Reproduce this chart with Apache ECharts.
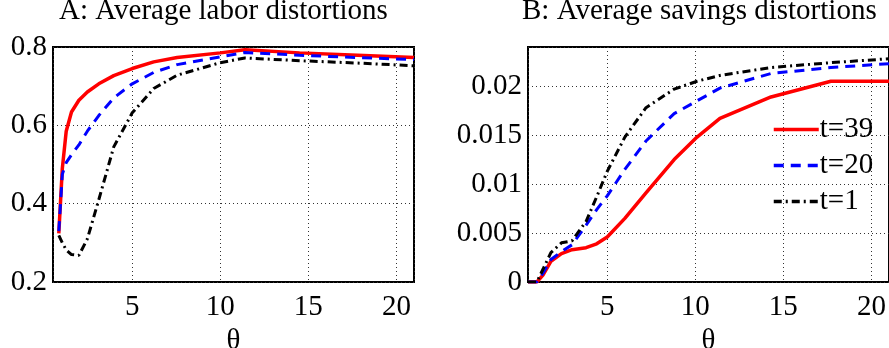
<!DOCTYPE html>
<html>
<head>
<meta charset="utf-8">
<script src="https://cdn.jsdelivr.net/npm/echarts@6/dist/echarts.min.js"></script>
<style>
  html, body { margin: 0; padding: 0; background: #fff; }
  #chart { width: 889px; height: 348px; }
</style>
</head>
<body>
<div id="chart"></div>
<script>
// panel A: average labor distortions
const thetaA = [0.83, 1.03, 1.25, 1.55, 1.97, 2.45, 3.1, 3.95, 5, 6.22, 7.55, 10, 11.4, 14.5, 17.8, 21];
const laborT39 = [0.324, 0.49, 0.585, 0.634, 0.664, 0.685, 0.706, 0.727, 0.745, 0.762, 0.773, 0.785, 0.793, 0.785, 0.779, 0.773];
const laborT20 = [0.33, 0.475, 0.505, 0.525, 0.55, 0.585, 0.625, 0.67, 0.706, 0.735, 0.755, 0.775, 0.786, 0.779, 0.773, 0.768];
const laborT1 = [0.319, 0.3, 0.282, 0.27, 0.268, 0.31, 0.41, 0.545, 0.632, 0.694, 0.728, 0.76, 0.772, 0.765, 0.759, 0.752];

// panel B: average savings distortions
const thetaB = [0.5, 1.0, 1.35, 1.8, 2.4, 3.0, 3.8, 4.4, 5.0, 6.0, 7.2, 8.8, 10.1, 11.4, 14.3, 17.7, 21];
const savT39 = [0, 0, 0.0007, 0.0021, 0.0029, 0.0033, 0.0035, 0.0039, 0.0046, 0.0065, 0.0091, 0.0125, 0.0148, 0.0167, 0.0189, 0.0205, 0.0205];
const savT20 = [0, 0, 0.0009, 0.0023, 0.0031, 0.0038, 0.0058, 0.0074, 0.0088, 0.0115, 0.0144, 0.0172, 0.0185, 0.0198, 0.0213, 0.0219, 0.0223];
const savT1 = [0, 0, 0.0013, 0.003, 0.004, 0.0042, 0.0062, 0.0087, 0.0113, 0.0148, 0.0178, 0.0197, 0.0205, 0.0211, 0.0219, 0.0224, 0.0228];

const titles = ["A: Average labor distortions", "B: Average savings distortions"];
const seriesNames = ["t=39", "t=20", "t=1"];

const FONT = "'Liberation Serif', 'Times New Roman', serif";
const styles = {
  t39: { color: "#ff0000", width: 3.5, type: "solid" },
  t20: { color: "#0000ff", width: 3, type: [10, 7] },
  t1: { color: "#000000", width: 3, type: [8, 4, 2, 4] },
};

const pairs = (xs, ys) => xs.map((x, i) => [x, ys[i]]);

function line(name, xs, ys, idx, st) {
  return {
    name: name,
    type: "line",
    xAxisIndex: idx,
    yAxisIndex: idx,
    data: pairs(xs, ys),
    symbol: "none",
    lineStyle: st,
    itemStyle: { color: st.color },
    animation: false,
  };
}

const splitLine = { show: true, lineStyle: { color: "#333", width: 1, type: [1, 3] } };
const labelStyle = { color: "#000", fontFamily: FONT, fontSize: 29, fontWeight: "normal" };

function xAxis(idx) {
  return {
    type: "value",
    gridIndex: idx,
    min: 0.5,
    max: 21,
    name: "θ",
    nameLocation: "middle",
    nameGap: 35,
    nameTextStyle: labelStyle,
    axisLine: { show: false },
    axisTick: { show: false },
    axisLabel: Object.assign({ margin: 11, showMinLabel: false, showMaxLabel: false }, labelStyle),
    splitLine: splitLine,
  };
}

function grid(left) {
  return {
    left: left, top: 47, width: 361, height: 235,
    containLabel: false, outerBoundsMode: "none",
    show: true, borderColor: "#000", borderWidth: 2, backgroundColor: "#fff",
  };
}

const chart = echarts.init(document.getElementById("chart"));

chart.setOption({
  animation: false,
  textStyle: { fontFamily: FONT, fontSize: 29, color: "#000" },
  title: [
    { text: titles[0], left: 59, top: -3, padding: 0, textStyle: labelStyle },
    { text: titles[1], left: 522, top: -3, padding: 0, textStyle: labelStyle },
  ],
  grid: [grid(53), grid(528)],
  legend: {
    data: seriesNames,
    left: 772,
    top: 115,
    orient: "vertical",
    itemWidth: 45,
    itemHeight: 29,
    itemGap: 7,
    padding: 0,
    itemStyle: { opacity: 0 },
    lineStyle: { width: 3.5 },
    textStyle: Object.assign({ padding: [0, 0, 0, -4] }, labelStyle),
    selectedMode: false,
  },
  xAxis: [xAxis(0), xAxis(1)],
  yAxis: [
    {
      type: "value",
      gridIndex: 0,
      min: 0.2,
      max: 0.8,
      interval: 0.2,
      axisLine: { show: false },
      axisTick: { show: false },
      axisLabel: Object.assign({ margin: 6 }, labelStyle),
      splitLine: splitLine,
    },
    {
      type: "value",
      gridIndex: 1,
      min: 0,
      max: 0.024,
      interval: 0.005,
      axisLine: { show: false },
      axisTick: { show: false },
      axisLabel: Object.assign({ margin: 6, showMaxLabel: false }, labelStyle),
      splitLine: splitLine,
    },
  ],
  series: [
    line(seriesNames[0], thetaA, laborT39, 0, styles.t39),
    line(seriesNames[1], thetaA, laborT20, 0, styles.t20),
    line(seriesNames[2], thetaA, laborT1, 0, styles.t1),
    line(seriesNames[0], thetaB, savT39, 1, styles.t39),
    line(seriesNames[1], thetaB, savT20, 1, styles.t20),
    line(seriesNames[2], thetaB, savT1, 1, styles.t1),
  ],
});
</script>
</body>
</html>
